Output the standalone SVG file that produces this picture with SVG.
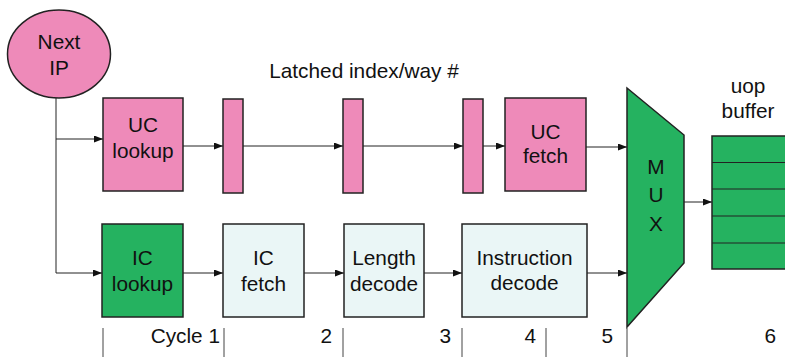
<svg xmlns="http://www.w3.org/2000/svg" width="785" height="357" viewBox="0 0 785 357">
<defs>
<marker id="ah" markerWidth="9" markerHeight="7" refX="9" refY="3.5" orient="auto" markerUnits="userSpaceOnUse">
<path d="M0,0 L9,3.5 L0,7 Z" fill="#111"/>
</marker>
<style>
text{font-family:"Liberation Sans",Arial,sans-serif;font-size:20.8px;fill:#111;text-anchor:middle}
.pink{fill:#EE8AB9;stroke:#222;stroke-width:1.5}
.green{fill:#25B260;stroke:#222;stroke-width:1.5}
.light{fill:#EAF6F6;stroke:#222;stroke-width:1.5}
.conn{stroke:#222;stroke-width:1;fill:none}
.arr{stroke:#222;stroke-width:1;fill:none;marker-end:url(#ah)}
.tick{stroke:#444;stroke-width:1}
.lbl{text-anchor:end}
</style>
</defs>
<rect width="785" height="357" fill="#fff"/>

<g id="connectors">
<path class="conn" d="M56,98 V273"/>
<path class="arr" d="M56,139 H103"/>
<path class="arr" d="M56,273 H102"/>
<path class="arr" d="M183,146 H223"/>
<path class="arr" d="M243,146 H343"/>
<path class="arr" d="M363,146 H463"/>
<path class="arr" d="M483,146 H505"/>
<path class="arr" d="M586,147 H627"/>
<path class="arr" d="M183,273 H223"/>
<path class="arr" d="M304,273 H344"/>
<path class="arr" d="M424,273 H462"/>
<path class="arr" d="M587,273 H627"/>
<path class="arr" d="M684,202 H712"/>
</g>

<g id="next-ip">
<ellipse class="pink" cx="59" cy="54" rx="51.5" ry="44"/>
<text x="59" y="49">Next</text>
<text x="59" y="75">IP</text>
</g>

<g id="uc-lookup">
<rect class="pink" x="103" y="98" width="80" height="93"/>
<text x="143" y="132">UC</text>
<text x="143" y="158">lookup</text>
</g>

<g id="latch1"><rect class="pink" x="223" y="99" width="20" height="94"/></g>
<g id="latch2"><rect class="pink" x="343" y="99" width="20" height="94"/></g>
<g id="latch3"><rect class="pink" x="463" y="99" width="20" height="94"/></g>

<g id="latched-label"><text x="364" y="78">Latched index/way #</text></g>

<g id="uc-fetch">
<rect class="pink" x="505" y="98" width="81" height="93"/>
<text x="545.5" y="139">UC</text>
<text x="545.5" y="163">fetch</text>
</g>

<g id="ic-lookup">
<rect class="green" x="102" y="224" width="81" height="93"/>
<text x="142.5" y="265">IC</text>
<text x="142.5" y="291">lookup</text>
</g>

<g id="ic-fetch">
<rect class="light" x="223" y="224" width="81" height="93"/>
<text x="263.5" y="265">IC</text>
<text x="263.5" y="291">fetch</text>
</g>

<g id="length-decode">
<rect class="light" x="344" y="224" width="80" height="93"/>
<text x="384" y="265">Length</text>
<text x="384" y="291">decode</text>
</g>

<g id="instruction-decode">
<rect class="light" x="462" y="224" width="125" height="93"/>
<text x="524.5" y="265">Instruction</text>
<text x="524.5" y="290">decode</text>
</g>

<g id="mux">
<polygon class="green" points="627,88 684,135 684,263 627,327" stroke-width="1"/>
<text x="656" y="174">M</text>
<text x="656" y="202">U</text>
<text x="656" y="231">X</text>
</g>

<g id="uop-buffer">
<rect class="green" x="712" y="136" width="80" height="133"/>
<path class="conn" d="M712,162.5 H785 M712,189 H785 M712,216 H785 M712,243 H785" stroke-width="1.8"/>
<text x="748" y="93">uop</text>
<text x="748" y="118">buffer</text>
</g>

<g id="cycles">
<path class="tick" d="M103,328 V357 M224,328 V357 M343,328 V357 M462,328 V357 M546,328 V357 M627,328 V357"/>
<text class="lbl" x="220" y="343">Cycle 1</text>
<text class="lbl" x="332" y="343">2</text>
<text class="lbl" x="451" y="343">3</text>
<text class="lbl" x="536" y="343">4</text>
<text class="lbl" x="613" y="343">5</text>
<text class="lbl" x="776" y="343">6</text>
</g>
</svg>
